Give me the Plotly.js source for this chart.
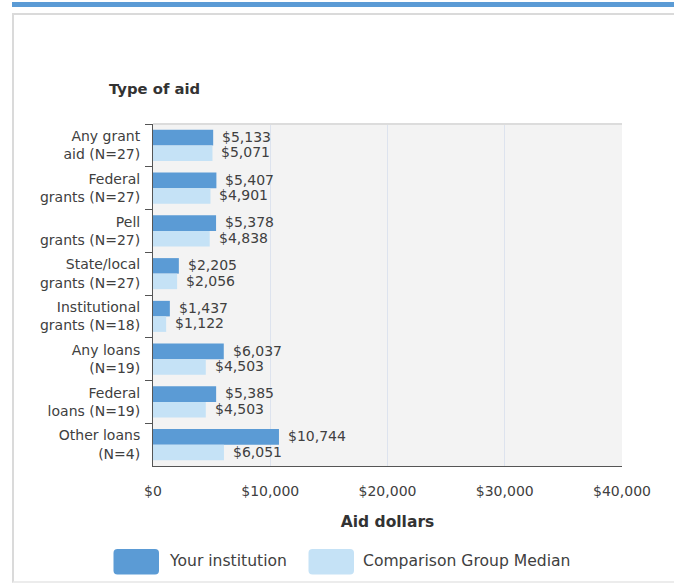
<!DOCTYPE html>
<html>
<head>
<meta charset="utf-8">
<script src="https://cdn.plot.ly/plotly-3.0.1.min.js"></script>
<style>
  html, body { margin: 0; padding: 0; background: #fff; }
  #wrap { position: relative; width: 674px; height: 584px; overflow: hidden; }
  #topbar { position: absolute; left: 12px; top: 2px; width: 662px; height: 5px; background: #5b9bd5; }
  #frame { position: absolute; left: 12px; top: 13px; width: 720px; height: 566px;
           border-top: 2px solid #dadada; border-left: 2px solid #dadada; border-bottom: 2px solid #ececec; }
  #chart { position: absolute; left: 0; top: 0; width: 674px; height: 584px; }
</style>
</head>
<body>
<div id="wrap">
  <div id="topbar"></div>
  <div id="frame"></div>
  <div id="chart"></div>
</div>
<script>
const categories = [
  "Any grant<br>aid (N=27)",
  "Federal<br>grants (N=27)",
  "Pell<br>grants (N=27)",
  "State/local<br>grants (N=27)",
  "Institutional<br>grants (N=18)",
  "Any loans<br>(N=19)",
  "Federal<br>loans (N=19)",
  "Other loans<br>(N=4)"
];
const yourInstitution = [5133, 5407, 5378, 2205, 1437, 6037, 5385, 10744];
const comparisonMedian = [5071, 4901, 4838, 2056, 1122, 4503, 4503, 6051];
const seriesNames = ["Your institution", "Comparison Group Median"];
const seriesColors = ["#5b9bd5", "#c5e2f6"];
const xTickValues = [0, 10000, 20000, 30000, 40000];
const xTickLabels = ["$0", "$10,000", "$20,000", "$30,000", "$40,000"];
const yAxisTitle = "Type of aid";
const xAxisTitle = "Aid dollars";

const FONT = "DejaVu Sans, Verdana, sans-serif";
const TXT = "#404040";

const fmt = v => "$" + v.toLocaleString("en-US");

const traces = [yourInstitution, comparisonMedian].map((vals, k) => ({
  type: "bar",
  orientation: "h",
  y: categories,
  x: vals,
  name: seriesNames[k],
  marker: { color: seriesColors[k], line: { width: 0 } },
  hoverinfo: "skip",
  showlegend: false
}));

const annotations = [];
[yourInstitution, comparisonMedian].forEach((vals, k) => {
  vals.forEach((v, i) => {
    annotations.push({
      x: v, y: categories[i], xref: "x", yref: "y",
      text: fmt(v), showarrow: false,
      xanchor: "left", yanchor: "middle",
      xshift: 8, yshift: k === 0 ? 8.5 : -7,
      borderpad: 0,
      font: { family: FONT, size: 14, color: TXT }
    });
  });
});

// "Type of aid" axis caption above the category axis
annotations.push({
  xref: "paper", yref: "paper", x: 0.0036, y: 1.105,
  xanchor: "center", yanchor: "middle", showarrow: false,
  text: yAxisTitle,
  font: { family: FONT, size: 14.8, color: "#333", weight: "bold" }
});

// Manual legend
const plotL = 153, plotW = 469, plotB = 466, plotH = 342;
const px2x = p => (p - plotL) / plotW;
const px2y = p => (plotB - p) / plotH;
const shapes = [
  { type: "line", xref: "paper", yref: "paper", x0: 0, x1: 1, y0: 1, y1: 1,
    line: { color: "#dcdcdc", width: 2 } }
];
const legendItems = [
  { sx: 113.5, tx: 166.5 },
  { sx: 308.5, tx: 361 }
];
legendItems.forEach((it, k) => {
  const x0 = it.sx, x1 = it.sx + 45.5, y0 = 549, y1 = 574.5, r = 4;
  const X = px2x, Y = px2y;
  const path = `M ${X(x0 + r)} ${Y(y0)} L ${X(x1 - r)} ${Y(y0)} Q ${X(x1)} ${Y(y0)} ${X(x1)} ${Y(y0 + r)} ` +
               `L ${X(x1)} ${Y(y1 - r)} Q ${X(x1)} ${Y(y1)} ${X(x1 - r)} ${Y(y1)} ` +
               `L ${X(x0 + r)} ${Y(y1)} Q ${X(x0)} ${Y(y1)} ${X(x0)} ${Y(y1 - r)} ` +
               `L ${X(x0)} ${Y(y0 + r)} Q ${X(x0)} ${Y(y0)} ${X(x0 + r)} ${Y(y0)} Z`;
  shapes.push({ type: "path", xref: "paper", yref: "paper", path,
    fillcolor: seriesColors[k], line: { width: 0 }, layer: "above" });
  annotations.push({
    xref: "paper", yref: "paper", x: px2x(it.tx), y: px2y(561),
    xanchor: "left", yanchor: "middle", showarrow: false,
    text: seriesNames[k],
    font: { family: FONT, size: 15.6, color: TXT }
  });
});

const layout = {
  width: 674, height: 584,
  margin: { l: 153, r: 52, t: 124, b: 118, pad: 0 },
  paper_bgcolor: "rgba(0,0,0,0)",
  plot_bgcolor: "#f3f3f3",
  barmode: "group",
  bargap: 0.274,
  bargroupgap: 0,
  showlegend: false,
  font: { family: FONT, color: TXT },
  xaxis: {
    range: [0, 40000],
    tickmode: "array",
    tickvals: xTickValues,
    ticktext: xTickLabels,
    ticks: "",
    ticklabelstandoff: 12,
    tickfont: { family: FONT, size: 14, color: TXT },
    showgrid: true, gridcolor: "#dde3ee", gridwidth: 1,
    zeroline: false,
    showline: true, linecolor: "#555", linewidth: 1,
    fixedrange: true,
    title: { text: xAxisTitle, standoff: 18,
             font: { family: FONT, size: 15.5, color: "#333", weight: "bold" } },
    automargin: false
  },
  yaxis: {
    type: "category",
    autorange: "reversed",
    ticks: "outside", tickson: "boundaries", ticklen: 7, tickcolor: "#555", tickwidth: 1,
    ticklabelstandoff: 9,
    tickfont: { family: FONT, size: 14, color: TXT },
    showline: true, linecolor: "#555", linewidth: 1,
    showgrid: false, zeroline: false,
    fixedrange: true,
    automargin: false
  },
  annotations,
  shapes
};

Plotly.newPlot("chart", traces, layout, { displayModeBar: false, staticPlot: true });
</script>
</body>
</html>
